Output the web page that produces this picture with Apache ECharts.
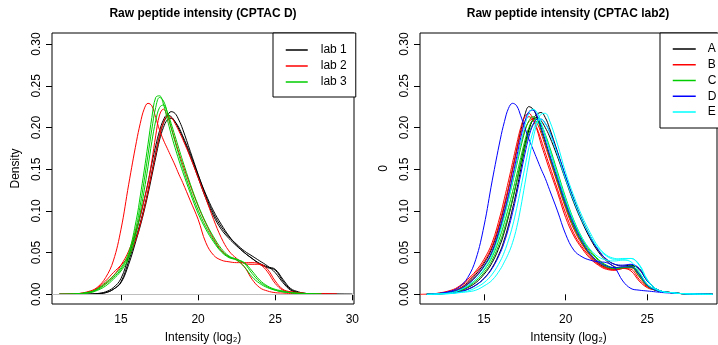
<!DOCTYPE html>
<html><head><meta charset="utf-8">
<script src="https://cdn.jsdelivr.net/npm/echarts@6/dist/echarts.min.js"></script>
<style>html,body{margin:0;padding:0;background:#fff}#c{width:718px;height:345px}</style>
</head><body><div id="c"></div>
<script>
// ---------- data ----------
const titleLeft = 'Raw peptide intensity (CPTAC D)';
const titleRight = 'Raw peptide intensity (CPTAC lab2)';
const xTicksLeft = [15, 20, 25, 30];
const xTicksRight = [15, 20, 25];
const yTicks = [0, 0.05, 0.10, 0.15, 0.20, 0.25, 0.30];

const leftX = [11, 12, 13, 13.5, 14, 14.5, 15, 15.5, 16, 16.25, 16.5, 16.75, 17, 17.25, 17.5, 17.75, 18, 18.25, 18.5, 18.75, 19, 19.5, 20, 20.5, 21, 21.5, 22, 22.5, 23, 23.5, 24, 24.5, 25, 25.5, 26, 26.5, 27, 28, 29, 30];

const lab1_1 = [0, 0, 0.0002, 0.0008, 0.002, 0.006, 0.015, 0.04, 0.07, 0.086, 0.104, 0.124, 0.147, 0.17, 0.19, 0.205, 0.214, 0.219, 0.217, 0.209, 0.198, 0.171, 0.144, 0.118, 0.097, 0.081, 0.069, 0.06, 0.052, 0.046, 0.04, 0.034, 0.026, 0.014, 0.005, 0.002, 0.001, 0.0003, 0.0001, 0];
const lab1_2 = [0, 0, 0.0003, 0.001, 0.003, 0.008, 0.019, 0.046, 0.077, 0.094, 0.113, 0.134, 0.157, 0.178, 0.196, 0.209, 0.215, 0.213, 0.207, 0.198, 0.188, 0.165, 0.14, 0.115, 0.094, 0.078, 0.067, 0.058, 0.05, 0.043, 0.036, 0.032, 0.029, 0.016, 0.006, 0.002, 0.001, 0.0003, 0.0001, 0];
const lab1_3 = [0, 0, 0.0002, 0.0008, 0.002, 0.006, 0.014, 0.036, 0.066, 0.082, 0.1, 0.12, 0.142, 0.164, 0.185, 0.2, 0.209, 0.211, 0.207, 0.2, 0.19, 0.168, 0.143, 0.12, 0.1, 0.084, 0.07, 0.059, 0.05, 0.043, 0.037, 0.033, 0.03, 0.018, 0.007, 0.003, 0.001, 0.0003, 0.0001, 0];
const lab2_1 = [0, 0.0005, 0.004, 0.009, 0.02, 0.04, 0.078, 0.132, 0.183, 0.205, 0.222, 0.229, 0.226, 0.212, 0.197, 0.185, 0.175, 0.165, 0.155, 0.144, 0.134, 0.112, 0.09, 0.062, 0.047, 0.041, 0.039, 0.038, 0.038, 0.038, 0.036, 0.027, 0.013, 0.005, 0.003, 0.002, 0.001, 0.0006, 0.0002, null];
const lab2_2 = [0, 0.0005, 0.003, 0.007, 0.013, 0.022, 0.035, 0.052, 0.078, 0.094, 0.113, 0.133, 0.16, 0.19, 0.215, 0.222, 0.214, 0.2, 0.185, 0.17, 0.156, 0.13, 0.106, 0.085, 0.067, 0.053, 0.045, 0.041, 0.033, 0.018, 0.008, 0.004, 0.002, 0.0015, 0.001, 0.0008, 0.0005, 0.0003, 0.0001, null];
const lab2_3 = [0, 0.0005, 0.003, 0.008, 0.016, 0.026, 0.035, 0.046, 0.068, 0.084, 0.102, 0.123, 0.146, 0.168, 0.19, 0.206, 0.213, 0.212, 0.205, 0.196, 0.186, 0.164, 0.14, 0.115, 0.09, 0.068, 0.052, 0.043, 0.037, 0.036, 0.036, 0.03, 0.016, 0.006, 0.003, 0.002, 0.001, 0.0005, 0.0002, null];
const lab3_1 = [0, 0.0005, 0.003, 0.007, 0.014, 0.022, 0.032, 0.05, 0.09, 0.118, 0.148, 0.18, 0.212, 0.236, 0.238, 0.228, 0.21, 0.192, 0.176, 0.161, 0.147, 0.121, 0.097, 0.078, 0.063, 0.051, 0.044, 0.041, 0.033, 0.021, 0.013, 0.008, 0.005, 0.003, 0.002, 0.001, 0.0007, 0.0002, null, null];
const lab3_2 = [0, 0.0004, 0.0025, 0.006, 0.012, 0.02, 0.03, 0.047, 0.082, 0.107, 0.136, 0.167, 0.198, 0.224, 0.236, 0.232, 0.218, 0.2, 0.183, 0.167, 0.152, 0.125, 0.101, 0.081, 0.065, 0.052, 0.045, 0.042, 0.037, 0.025, 0.015, 0.009, 0.005, 0.003, 0.002, 0.001, 0.0007, 0.0002, null, null];
const lab3_3 = [0, 0.0004, 0.002, 0.005, 0.01, 0.018, 0.028, 0.043, 0.075, 0.098, 0.124, 0.153, 0.183, 0.208, 0.224, 0.227, 0.219, 0.205, 0.19, 0.175, 0.16, 0.132, 0.107, 0.086, 0.069, 0.055, 0.046, 0.042, 0.038, 0.028, 0.017, 0.01, 0.006, 0.004, 0.002, 0.0015, 0.001, 0.0003, null, null];

const rightX = [11.1, 11.5, 12, 13, 13.5, 14, 14.5, 15, 15.5, 16, 16.25, 16.5, 16.75, 17, 17.25, 17.5, 17.75, 18, 18.25, 18.5, 18.75, 19, 19.5, 20, 20.5, 21, 21.5, 22, 22.5, 23, 23.5, 24, 24.5, 25, 25.5, 26, 26.5, 27, 28, 29];

const sA1 = [null, 0, 0.0005, 0.003, 0.007, 0.014, 0.024, 0.037, 0.056, 0.087, 0.106, 0.127, 0.15, 0.173, 0.196, 0.215, 0.225, 0.222, 0.212, 0.197, 0.182, 0.166, 0.136, 0.106, 0.081, 0.062, 0.047, 0.037, 0.032, 0.03, 0.031, 0.033, 0.024, 0.011, 0.005, 0.003, 0.002, 0.001, 0.0004, 0];
const sA2 = [null, 0, 0.0003, 0.0015, 0.003, 0.006, 0.011, 0.019, 0.032, 0.052, 0.066, 0.083, 0.103, 0.125, 0.15, 0.175, 0.197, 0.21, 0.216, 0.218, 0.212, 0.2, 0.171, 0.141, 0.114, 0.09, 0.07, 0.053, 0.042, 0.036, 0.034, 0.035, 0.03, 0.016, 0.007, 0.003, 0.002, 0.001, 0.0003, 0];
const sA3 = [null, 0, 0.0003, 0.002, 0.004, 0.008, 0.014, 0.024, 0.038, 0.06, 0.075, 0.093, 0.113, 0.135, 0.158, 0.18, 0.198, 0.209, 0.212, 0.208, 0.2, 0.19, 0.165, 0.137, 0.11, 0.087, 0.067, 0.051, 0.04, 0.033, 0.031, 0.034, 0.031, 0.017, 0.007, 0.003, 0.002, 0.001, 0.0003, 0];
const sB1 = [0, 0.0002, 0.0008, 0.005, 0.01, 0.018, 0.028, 0.042, 0.062, 0.095, 0.115, 0.136, 0.158, 0.18, 0.2, 0.213, 0.217, 0.21, 0.197, 0.18, 0.165, 0.15, 0.122, 0.092, 0.07, 0.055, 0.043, 0.035, 0.03, 0.029, 0.031, 0.028, 0.016, 0.008, 0.005, 0.003, 0.002, 0.001, 0.0004, 0];
const sB2 = [null, 0.0002, 0.0007, 0.004, 0.009, 0.016, 0.026, 0.039, 0.058, 0.089, 0.108, 0.128, 0.15, 0.172, 0.193, 0.207, 0.213, 0.209, 0.199, 0.185, 0.17, 0.155, 0.126, 0.097, 0.073, 0.057, 0.045, 0.036, 0.031, 0.029, 0.031, 0.03, 0.018, 0.009, 0.005, 0.003, 0.002, 0.001, 0.0004, 0];
const sB3 = [null, 0.0001, 0.0005, 0.003, 0.007, 0.013, 0.022, 0.034, 0.051, 0.08, 0.098, 0.117, 0.138, 0.16, 0.18, 0.197, 0.207, 0.21, 0.205, 0.193, 0.178, 0.163, 0.133, 0.103, 0.078, 0.06, 0.047, 0.038, 0.032, 0.03, 0.032, 0.032, 0.021, 0.01, 0.005, 0.003, 0.002, 0.001, 0.0004, 0];
const sC1 = [null, 0, 0.0004, 0.003, 0.006, 0.012, 0.021, 0.033, 0.05, 0.078, 0.095, 0.114, 0.134, 0.155, 0.176, 0.195, 0.208, 0.213, 0.209, 0.198, 0.183, 0.167, 0.136, 0.106, 0.081, 0.062, 0.048, 0.039, 0.033, 0.031, 0.032, 0.032, 0.022, 0.01, 0.005, 0.003, 0.002, 0.001, 0.0004, 0];
const sC2 = [null, 0, 0.0003, 0.0025, 0.005, 0.01, 0.018, 0.029, 0.045, 0.07, 0.086, 0.104, 0.123, 0.143, 0.164, 0.184, 0.2, 0.209, 0.21, 0.203, 0.19, 0.175, 0.143, 0.112, 0.086, 0.066, 0.051, 0.041, 0.034, 0.031, 0.032, 0.033, 0.024, 0.011, 0.005, 0.003, 0.002, 0.001, 0.0004, 0];
const sC3 = [null, 0, 0.0003, 0.002, 0.0045, 0.009, 0.016, 0.026, 0.041, 0.064, 0.079, 0.096, 0.115, 0.135, 0.156, 0.176, 0.193, 0.204, 0.207, 0.203, 0.192, 0.178, 0.147, 0.116, 0.089, 0.068, 0.053, 0.042, 0.035, 0.032, 0.032, 0.034, 0.026, 0.012, 0.006, 0.003, 0.002, 0.001, 0.0004, 0];
const sD1 = [null, 0, 0.0005, 0.004, 0.009, 0.02, 0.042, 0.082, 0.136, 0.186, 0.207, 0.223, 0.229, 0.226, 0.214, 0.2, 0.186, 0.174, 0.162, 0.15, 0.139, 0.126, 0.1, 0.072, 0.053, 0.045, 0.041, 0.039, 0.038, 0.032, 0.016, 0.007, 0.005, 0.004, 0.003, 0.002, 0.0015, 0.001, 0.0003, 0];
const sD2 = [null, 0, 0.0004, 0.003, 0.006, 0.012, 0.021, 0.034, 0.052, 0.082, 0.1, 0.12, 0.142, 0.165, 0.188, 0.207, 0.219, 0.221, 0.214, 0.2, 0.185, 0.169, 0.139, 0.109, 0.084, 0.064, 0.049, 0.039, 0.034, 0.032, 0.033, 0.033, 0.024, 0.011, 0.005, 0.003, 0.002, 0.001, 0.0004, 0];
const sD3 = [null, 0, 0.0003, 0.0015, 0.003, 0.006, 0.011, 0.019, 0.031, 0.05, 0.063, 0.079, 0.098, 0.12, 0.144, 0.168, 0.189, 0.203, 0.21, 0.21, 0.205, 0.196, 0.17, 0.141, 0.113, 0.089, 0.069, 0.053, 0.042, 0.036, 0.035, 0.036, 0.031, 0.016, 0.007, 0.003, 0.002, 0.001, 0.0003, 0];
const sE1 = [null, 0, 0.0002, 0.001, 0.002, 0.003, 0.005, 0.01, 0.017, 0.03, 0.039, 0.049, 0.062, 0.08, 0.104, 0.132, 0.16, 0.186, 0.205, 0.216, 0.217, 0.209, 0.18, 0.146, 0.118, 0.094, 0.074, 0.057, 0.047, 0.043, 0.042, 0.043, 0.035, 0.017, 0.007, 0.003, 0.002, 0.001, 0.0003, 0];
const sE2 = [null, 0, 0.0003, 0.002, 0.005, 0.01, 0.018, 0.03, 0.047, 0.075, 0.093, 0.113, 0.135, 0.158, 0.181, 0.202, 0.217, 0.222, 0.218, 0.206, 0.191, 0.175, 0.144, 0.114, 0.088, 0.068, 0.054, 0.045, 0.041, 0.04, 0.041, 0.039, 0.027, 0.012, 0.006, 0.003, 0.002, 0.001, 0.0003, 0];
const sE3 = [null, 0, 0.0002, 0.001, 0.0025, 0.004, 0.008, 0.014, 0.024, 0.04, 0.051, 0.065, 0.082, 0.103, 0.127, 0.152, 0.176, 0.195, 0.207, 0.21, 0.205, 0.195, 0.168, 0.138, 0.112, 0.089, 0.07, 0.055, 0.046, 0.042, 0.043, 0.043, 0.036, 0.018, 0.007, 0.003, 0.002, 0.001, 0.0003, 0];

const leftGroups = [
  { name: 'lab 1', color: '#000000', curves: [lab1_1, lab1_2, lab1_3] },
  { name: 'lab 2', color: '#FF0000', curves: [lab2_1, lab2_2, lab2_3] },
  { name: 'lab 3', color: '#00CD00', curves: [lab3_1, lab3_2, lab3_3] }
];
const rightGroups = [
  { name: 'A', color: '#000000', curves: [sA1, sA2, sA3] },
  { name: 'B', color: '#FF0000', curves: [sB1, sB2, sB3] },
  { name: 'C', color: '#00CD00', curves: [sC1, sC2, sC3] },
  { name: 'D', color: '#0000FF', curves: [sD1, sD2, sD3] },
  { name: 'E', color: '#00FFFF', curves: [sE1, sE2, sE3] }
];

// ---------- chart ----------
const FONT = '"Liberation Sans", Arial, Helvetica, sans-serif';
const chart = echarts.init(document.getElementById('c'), null, { renderer: 'canvas' });

function xAxis(gridIndex, min, max, ticks) {
  return {
    type: 'value', gridIndex, min, max,
    axisLine: { show: false },
    splitLine: { show: false },
    axisTick: { show: true, inside: false, length: 6, customValues: ticks, lineStyle: { color: '#000', width: 1 } },
    axisLabel: { customValues: ticks, color: '#000', fontSize: 12, fontFamily: FONT, margin: 10 },
    name: 'Intensity (log₂)', nameLocation: 'middle', nameGap: 28,
    nameTextStyle: { color: '#000', fontSize: 12, fontFamily: FONT }
  };
}
function yAxis(gridIndex, name) {
  return {
    type: 'value', gridIndex, min: -0.0116, max: 0.3133,
    axisLine: { show: false },
    splitLine: { show: false },
    axisTick: { show: true, inside: false, length: 6, customValues: yTicks, lineStyle: { color: '#000', width: 1 } },
    axisLabel: { customValues: yTicks, rotate: 90, color: '#000', fontSize: 12, fontFamily: FONT, margin: 9,
      formatter: v => Number(v).toFixed(2) },
    name, nameLocation: 'middle', nameGap: 30, nameRotate: 90,
    nameTextStyle: { color: '#000', fontSize: 12, fontFamily: FONT }
  };
}

const series = [];
function addGroups(groups, xs, axisIndex) {
  groups.forEach(g => {
    g.curves.forEach(ys => {
      series.push({
        type: 'line', name: g.name, xAxisIndex: axisIndex, yAxisIndex: axisIndex,
        data: xs.map((x, i) => [x, ys[i]]),
        smooth: 0.4, symbol: 'none', showSymbol: false,
        lineStyle: { color: g.color, width: 1 }, itemStyle: { color: g.color },
        emphasis: { disabled: true }, silent: true
      });
    });
  });
}
addGroups(leftGroups, leftX, 0);
addGroups(rightGroups, rightX, 1);
series[0].markLine = {
  silent: true, symbol: 'none', label: { show: false },
  lineStyle: { color: '#BEBEBE', type: 'solid', width: 1 },
  data: [{ yAxis: 0 }], animation: false
};
series[0].z = 1;

const legendCommon = {
  orient: 'vertical', borderColor: '#000', borderWidth: 1, borderRadius: 0,
  itemHeight: 14, backgroundColor: '#fff',
  lineStyle: { width: 1.5 },
  itemStyle: { opacity: 0, borderWidth: 0 },
  selectedMode: false
};

const gridCommon = { show: true, borderColor: '#000', borderWidth: 1, backgroundColor: 'transparent',
  containLabel: false, outerBoundsMode: 'none' };

chart.setOption({
  animation: false,
  backgroundColor: '#fff',
  title: [
    { text: titleLeft, left: 198, top: 3, textAlign: 'center',
      textStyle: { fontSize: 12, fontWeight: 'bold', color: '#000', fontFamily: FONT } },
    { text: titleRight, left: 563, top: 3, textAlign: 'center',
      textStyle: { fontSize: 12, fontWeight: 'bold', color: '#000', fontFamily: FONT } }
  ],
  grid: [
    Object.assign({ left: 52, top: 33, width: 302, height: 271 }, gridCommon),
    Object.assign({ left: 420, top: 33, width: 297, height: 271 }, gridCommon)
  ],
  xAxis: [xAxis(0, 10.525, 30.11, xTicksLeft), xAxis(1, 11.08, 29.27, xTicksRight)],
  yAxis: [yAxis(0, 'Density'), yAxis(1, '0')],
  legend: [
    Object.assign({}, legendCommon, {
      left: 273, top: 33, padding: [10, 9, 8, 12], itemGap: 2, itemWidth: 22,
      data: leftGroups.map(g => g.name),
      textStyle: { fontSize: 12, color: '#000', fontFamily: FONT, lineHeight: 14, padding: [0, 0, 0, 8] }
    }),
    Object.assign({}, legendCommon, {
      left: 660, top: 33, padding: [9, 20, 9, 12], itemGap: 1.75, itemWidth: 23,
      data: rightGroups.map(g => g.name),
      textStyle: { fontSize: 12, color: '#000', fontFamily: FONT, lineHeight: 14, padding: [0, 0, 0, 7] }
    })
  ],
  series
});
</script>
</body></html>
